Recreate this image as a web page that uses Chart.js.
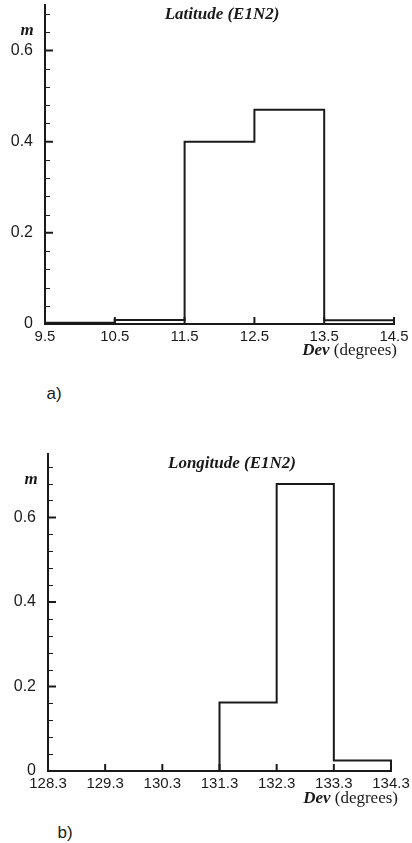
<!DOCTYPE html>
<html>
<head>
<meta charset="utf-8">
<script src="https://cdn.jsdelivr.net/npm/chart.js@4"></script>
<style>
  body { margin:0; background:#fff; width:412px; height:843px; position:relative; overflow:hidden;
         font-family:"Liberation Sans", Arial, sans-serif; }
  canvas { position:absolute; left:0; }
  .txt { position:absolute; white-space:nowrap; color:#1a1a1a; line-height:1; }
  .mid { transform:translate(-50%,-50%); }
  .ser { font-family:"Liberation Serif", "Times New Roman", serif; font-size:17px; }
  .bi { font-weight:bold; font-style:italic; }
  .tag { font-size:17px; transform:translate(-50%,-50%); }
</style>
</head>
<body>
<canvas id="latChart" width="412" height="365" style="top:0"></canvas>
<canvas id="lonChart" width="412" height="380" style="top:440px"></canvas>

<div class="txt mid ser bi" style="left:222px;top:13px">Latitude (E1N2)</div>
<div class="txt mid ser bi" style="left:27px;top:29px">m</div>
<div class="txt ser" style="right:15px;top:341px"><span class="bi">Dev</span> (degrees)</div>
<div class="txt tag" style="left:54px;top:393px">a)</div>

<div class="txt mid ser bi" style="left:232px;top:462px">Longitude (E1N2)</div>
<div class="txt mid ser bi" style="left:31px;top:478px">m</div>
<div class="txt ser" style="right:14px;top:789px"><span class="bi">Dev</span> (degrees)</div>
<div class="txt tag" style="left:65px;top:832px">b)</div>

<script>
// a) latitude histogram: bin edges and relative frequency per bin
const latEdges = [9.5, 10.5, 11.5, 12.5, 13.5, 14.5];
const latFreq = [0.003, 0.009, 0.40, 0.47, 0.008];
const latYTicks = [0, 0.2, 0.4, 0.6];
const latYMax = 0.7;

// b) longitude histogram
const lonEdges = [128.3, 129.3, 130.3, 131.3, 132.3, 133.3, 134.3];
const lonFreq = [0, 0, 0, 0.162, 0.679, 0.025];
const lonYTicks = [0, 0.2, 0.4, 0.6];
const lonYMax = 0.75;

const yMinorStep = 0.04;
const ink = '#1a1a1a';
const sans = '"Liberation Sans", Arial, sans-serif';

// tecplot style ticks pointing into the plot
const inwardTicks = {
  id: 'inwardTicks',
  afterDraw(chart){
    const {ctx, chartArea:a, scales:{x, y}} = chart;
    ctx.save();
    ctx.strokeStyle = ink;
    ctx.lineWidth = 2;
    ctx.beginPath();
    x.ticks.forEach(t=>{
      const px = x.getPixelForValue(t.value);
      ctx.moveTo(px, a.bottom); ctx.lineTo(px, a.bottom - 7);
    });
    y.ticks.forEach(t=>{
      const py = y.getPixelForValue(t.value);
      ctx.moveTo(a.left, py); ctx.lineTo(a.left + 8, py);
    });
    ctx.stroke();
    ctx.lineWidth = 1;
    ctx.beginPath();
    for(let v = yMinorStep; v < y.max; v += yMinorStep){
      if(Math.abs(v/0.2 - Math.round(v/0.2)) < 1e-6) continue;
      const py = Math.round(y.getPixelForValue(v)) + 0.5;
      ctx.moveTo(a.left, py); ctx.lineTo(a.left + 5, py);
    }
    ctx.stroke();
    ctx.restore();
  }
};

function noPad(s){ s.paddingLeft = 0; s.paddingRight = 0; s.paddingTop = 0; s.paddingBottom = 0; }

function makeHist(id, edges, freq, yTicks, yMax, g){
  // outline points: each bin starts at its left edge, closed back down to 0 at the end
  const pts = edges.map((e,i)=>({x:e, y: i < freq.length ? freq[i] : 0}));
  return new Chart(document.getElementById(id), {
    type: 'line',
    data: { datasets: [{
      data: pts,
      stepped: true,
      borderColor: ink,
      borderWidth: 2,
      pointRadius: 0,
      fill: false,
      clip: false
    }]},
    options: {
      responsive: false,
      animation: false,
      layout: { padding: { top: g.top, right: g.right, left: 0, bottom: 0 } },
      plugins: { legend: {display:false}, tooltip: {enabled:false} },
      scales: {
        x: {
          type: 'linear',
          min: edges[0], max: edges[edges.length-1],
          grid: { display: false },
          border: { display: true, color: ink, width: 2 },
          afterBuildTicks: s => { s.ticks = edges.map(v=>({value:v})); },
          afterFit: s => { s.height = g.xH; noPad(s); },
          ticks: {
            autoSkip: false, maxRotation: 0, padding: -4,
            color: ink, font: { family: sans, size: 15 },
            callback: v => v.toFixed(1)
          }
        },
        y: {
          min: 0, max: yMax,
          grid: { display: false },
          border: { display: true, color: ink, width: 2 },
          afterBuildTicks: s => { s.ticks = yTicks.map(v=>({value:v})); },
          afterFit: s => { s.width = g.yW; noPad(s); },
          ticks: {
            autoSkip: false, padding: 4,
            color: ink, font: { family: sans, size: 16 },
            callback: v => v === 0 ? '0' : v.toFixed(1)
          }
        }
      }
    },
    plugins: [inwardTicks]
  });
}

makeHist('latChart', latEdges, latFreq, latYTicks, latYMax, {top:5, right:18, yW:45, xH:41});
makeHist('lonChart', lonEdges, lonFreq, lonYTicks, lonYMax, {top:14, right:21, yW:48, xH:49});
</script>
</body>
</html>
